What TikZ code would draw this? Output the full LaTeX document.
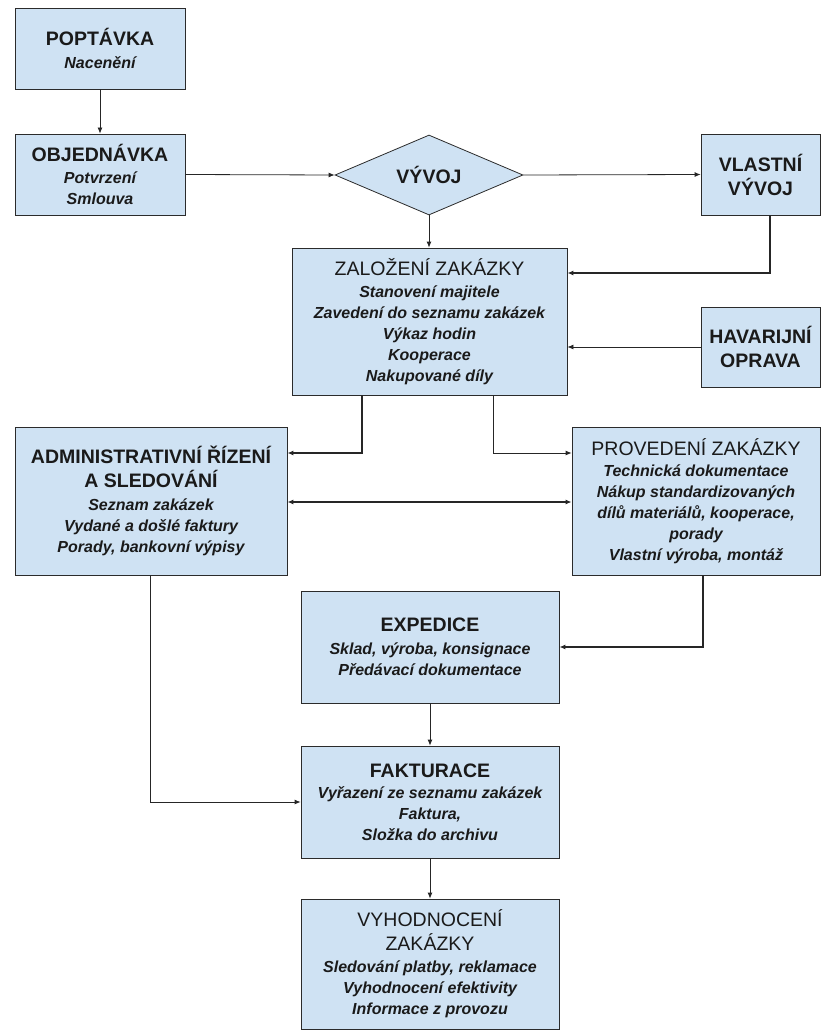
\documentclass[tikz,border=0pt]{standalone}
\usepackage{fontspec}
\setmainfont{Liberation Sans}
\usetikzlibrary{arrows.meta,shapes.geometric}

\definecolor{boxblue}{HTML}{CFE2F3}
\definecolor{boxline}{HTML}{2B2B2B}
\definecolor{inktext}{HTML}{1A1A1A}

\newcommand\boxhead{\fontsize{19.5}{21}\selectfont\bfseries\upshape}
\newcommand\boxheadlight{\fontsize{19.5}{21}\selectfont\mdseries\upshape}
\newcommand\boxsub{\fontsize{16}{21}\selectfont\bfseries\itshape}

\tikzset{
  stepbox/.style={draw=boxline, fill=boxblue, line width=0.8pt, align=center,
    inner sep=0pt, text=inktext, font=\boxsub},
  decision/.style={stepbox, shape=diamond, aspect=2.35},
  arr/.style={draw=black!85, line width=0.8pt, -{Latex[length=6pt,width=5pt]}},
  arrthick/.style={arr, line width=1.5pt, -{Latex[length=6pt,width=5pt]}},
}

\begin{document}
\begin{tikzpicture}[x=1pt, y=-1pt]
  \useasboundingbox (0,0) rectangle (821,1030);

  % process boxes
  \node[stepbox, minimum width=170pt, minimum height=81pt] (popt) at (100,48.5)
    {{\boxhead POPTÁVKA}\\[2pt] Nacenění};
  \node[stepbox, minimum width=170pt, minimum height=81pt] (objed) at (100,174.5)
    {{\boxhead OBJEDNÁVKA}\\[1pt] Potvrzení\\ Smlouva};
  \node[decision, minimum width=188pt, minimum height=80pt] (vyvoj) at (429,175)
    {\boxhead VÝVOJ};
  \node[stepbox, minimum width=119pt, minimum height=81pt] (vlast) at (760.5,174.5)
    {\boxhead VLASTNÍ\\[3pt]\boxhead VÝVOJ};
  \node[stepbox, minimum width=275pt, minimum height=147pt] (zal) at (429.5,321.5)
    {{\boxheadlight ZALOŽENÍ ZAKÁZKY}\\[1pt]
     Stanovení majitele\\ Zavedení do seznamu zakázek\\ Výkaz hodin\\
     Kooperace\\ Nakupované díly};
  \node[stepbox, minimum width=119pt, minimum height=80pt] (hav) at (760.5,347)
    {\boxhead HAVARIJNÍ\\[3pt]\boxhead OPRAVA};
  \node[stepbox, minimum width=272pt, minimum height=148pt] (admin) at (151,501)
    {{\boxhead ADMINISTRATIVNÍ ŘÍZENÍ}\\[3pt] {\boxhead A SLEDOVÁNÍ}\\[2pt]
     Seznam zakázek\\ Vydané a došlé faktury\\ Porady, bankovní výpisy};
  \node[stepbox, minimum width=248pt, minimum height=148pt] (prov) at (696,501)
    {{\boxheadlight PROVEDENÍ ZAKÁZKY}\\[0pt]
     Technická dokumentace\\ Nákup standardizovaných\\
     dílů materiálů, kooperace,\\ porady\\ Vlastní výroba, montáž};
  \node[stepbox, minimum width=258pt, minimum height=112pt] (exped) at (430,647)
    {{\boxhead EXPEDICE}\\[2pt] Sklad, výroba, konsignace\\ Předávací dokumentace};
  \node[stepbox, minimum width=258pt, minimum height=112pt] (fakt) at (430,802)
    {{\boxhead FAKTURACE}\\[0pt] Vyřazení ze seznamu zakázek\\ Faktura,\\ Složka do archivu};
  \node[stepbox, minimum width=258pt, minimum height=130pt] (vyh) at (430,964)
    {{\boxheadlight VYHODNOCENÍ}\\[3pt] {\boxheadlight ZAKÁZKY}\\[1pt]
     Sledování platby, reklamace\\ Vyhodnocení efektivity\\ Informace z provozu};

  % connectors
  \draw[arr] (popt) -- (objed);
  \draw[arr] (objed.east) -- (vyvoj.west);
  \draw[arr] (vyvoj.east) -- (vlast.west);
  \draw[arr] (vyvoj.south) -- (vyvoj.south |- zal.north);
  \draw[arrthick] ([xshift=9.5pt]vlast.south) |- ([yshift=48.5pt]zal.east);
  \draw[arr] (hav.west) -- (hav.west -| zal.east);
  \draw[arrthick] ([xshift=-67.5pt]zal.south) |- ([yshift=48pt]admin.east);
  \draw[arr] ([xshift=63.5pt]zal.south) |- ([yshift=48pt]prov.west);
  \draw[arrthick, {Latex[length=6pt,width=5pt]}-{Latex[length=6pt,width=5pt]}]
    ([yshift=-1pt]admin.east) -- ([yshift=-1pt]prov.west);
  \draw[arrthick] ([xshift=7pt]prov.south) |- (exped.east);
  \draw[arr] (exped) -- (fakt);
  \draw[arr] ([xshift=-1pt]admin.south) |- (fakt.west);
  \draw[arr] (fakt) -- (vyh);
\end{tikzpicture}
\end{document}
